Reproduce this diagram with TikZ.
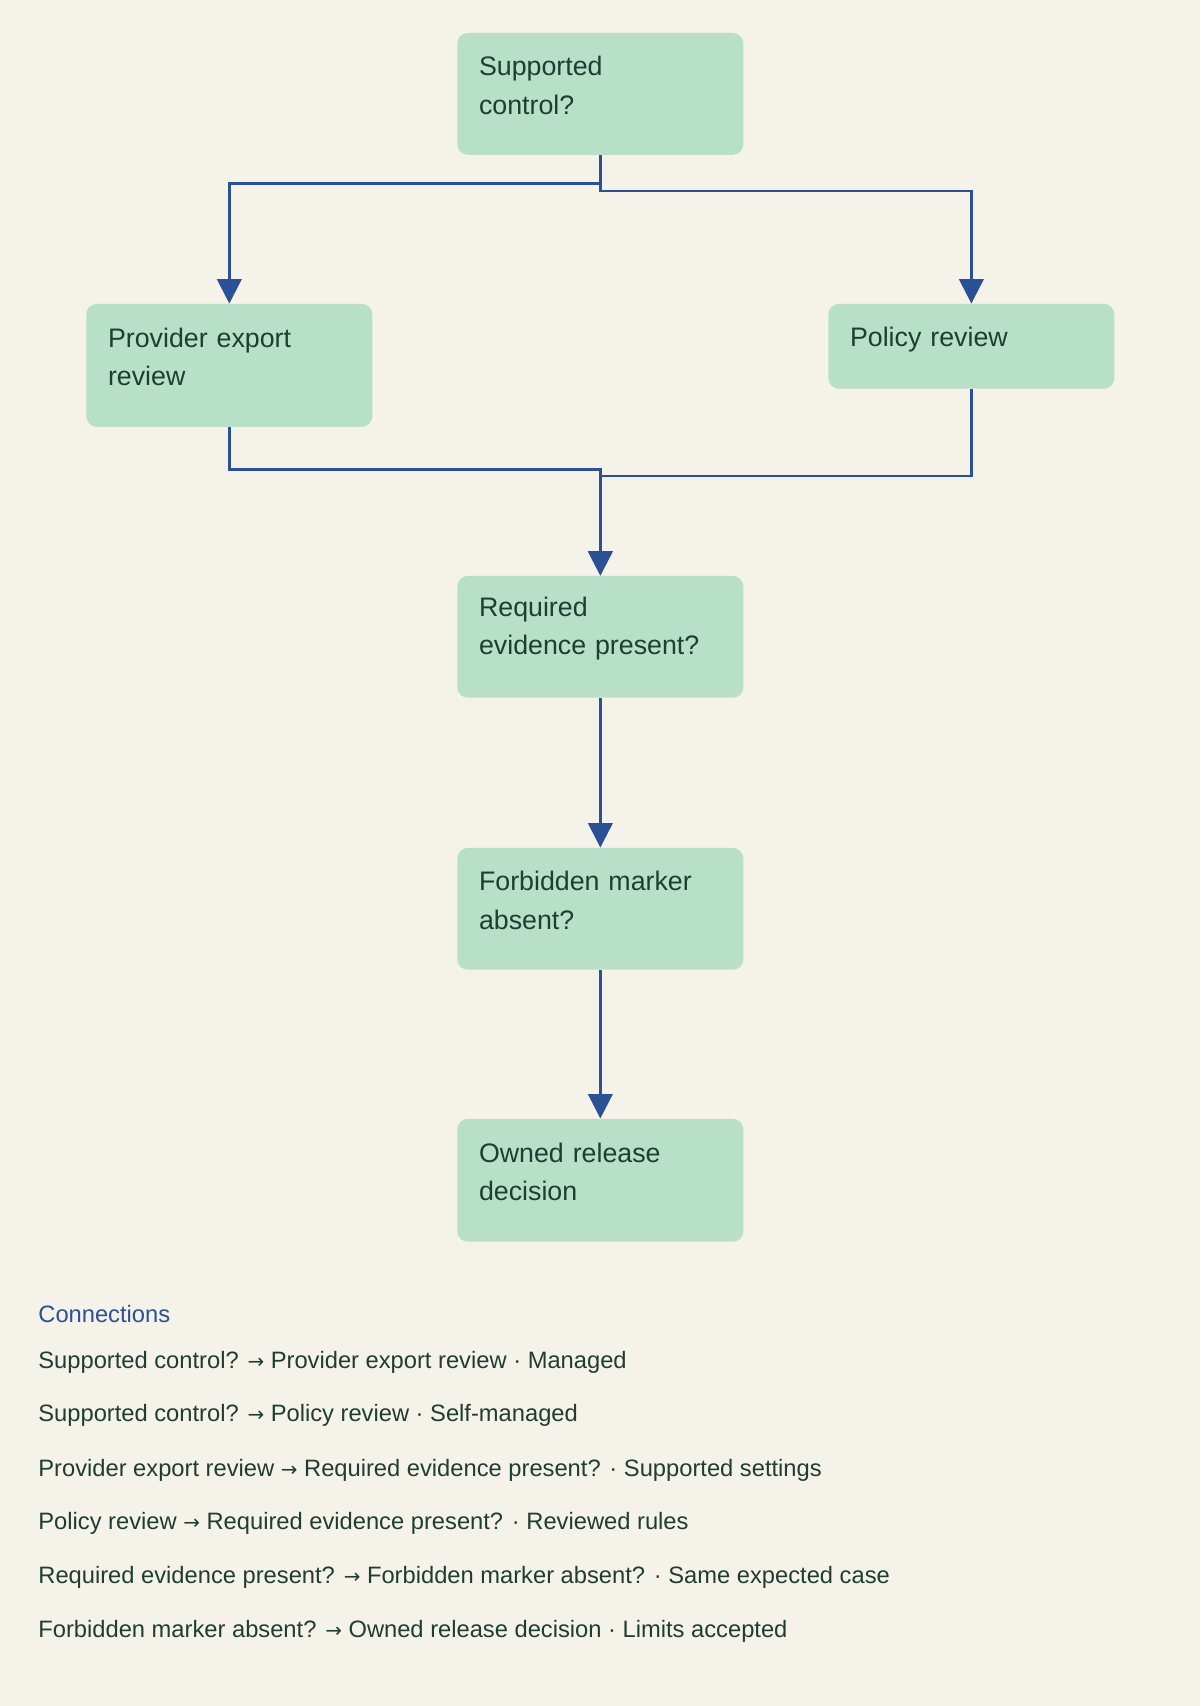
\documentclass[tikz,border=0pt]{standalone}
\usepackage{fontspec}
\setmainfont{Liberation Sans}
\newfontfamily\arrowfont{DejaVu Sans}
\usetikzlibrary{arrows.meta}
\definecolor{bgcol}{HTML}{F5F2EA}
\definecolor{boxcol}{HTML}{B8DFC8}
\definecolor{linkcol}{HTML}{2A5096}
\definecolor{inkcol}{HTML}{1F3D33}
\newcommand{\ra}{{\arrowfont\fontsize{13}{18}\selectfont→}}
\begin{document}
\begin{tikzpicture}[x=0.025cm,y=-0.025cm,font=\fontsize{17.5}{25}\selectfont,text=inkcol]
    % Define styles
    \tikzset{
        stepbox/.style={rectangle, rounded corners=7pt, fill=boxcol, anchor=north west,
            text width=223*0.025cm, align=left, inner xsep=20*0.025cm, inner ysep=0pt},
        link/.style={-{Triangle[width=16pt,length=16pt]}, draw=linkcol, line width=1.6pt},
        legend/.style={anchor=west, inner xsep=0pt, font=\fontsize{15.5}{18}\selectfont},
    }
    \fill[bgcol] (0,0) rectangle (1103,1568);

    % Boxes
    \node[stepbox, minimum height=112*0.025cm] (control) at (420,30) {Supported\\control?\par\vspace{11pt}};
    \node[stepbox, minimum height=113*0.025cm] (export) at (79,279) {Provider export\\review\par\vspace{11pt}};
    \node[stepbox, minimum height=78*0.025cm] (policy) at (761,279) {Policy review\par\vspace{9pt}};
    \node[stepbox, minimum height=112*0.025cm] (evidence) at (420,529) {Required\\evidence present?\par\vspace{11pt}};
    \node[stepbox, minimum height=112*0.025cm] (marker) at (420,779) {Forbidden marker\\absent?\par\vspace{11pt}};
    \node[stepbox, minimum height=113*0.025cm] (release) at (420,1028) {Owned release\\decision\par\vspace{11pt}};

    % Connectors
    \draw[link] (control.south) -- ++(0,26) -| (export.north);
    \draw[link] (control.south) -- ++(0,33) -| (policy.north);
    \draw[link] (export.south) -- ++(0,39) -| (evidence.north);
    \draw[link] (policy.south) -- ++(0,80) -| (evidence.north);
    \draw[link] (evidence) -- (marker);
    \draw[link] (marker) -- (release);

    % Legend
    \node[legend, text=linkcol] (legtitle) at (35,1208) {Connections};
    \node[legend] (leg1) at (35,1252) {Supported control? \ra{} Provider export review · Managed};
    \node[legend] (leg2) at (35,1301) {Supported control? \ra{} Policy review · Self-managed};
    \node[legend] (leg3) at (35,1351) {Provider export review \ra{} Required evidence present? · Supported settings};
    \node[legend] (leg4) at (35,1400) {Policy review \ra{} Required evidence present? · Reviewed rules};
    \node[legend] (leg5) at (35,1450) {Required evidence present? \ra{} Forbidden marker absent? · Same expected case};
    \node[legend] (leg6) at (35,1499) {Forbidden marker absent? \ra{} Owned release decision · Limits accepted};
\end{tikzpicture}
\end{document}
